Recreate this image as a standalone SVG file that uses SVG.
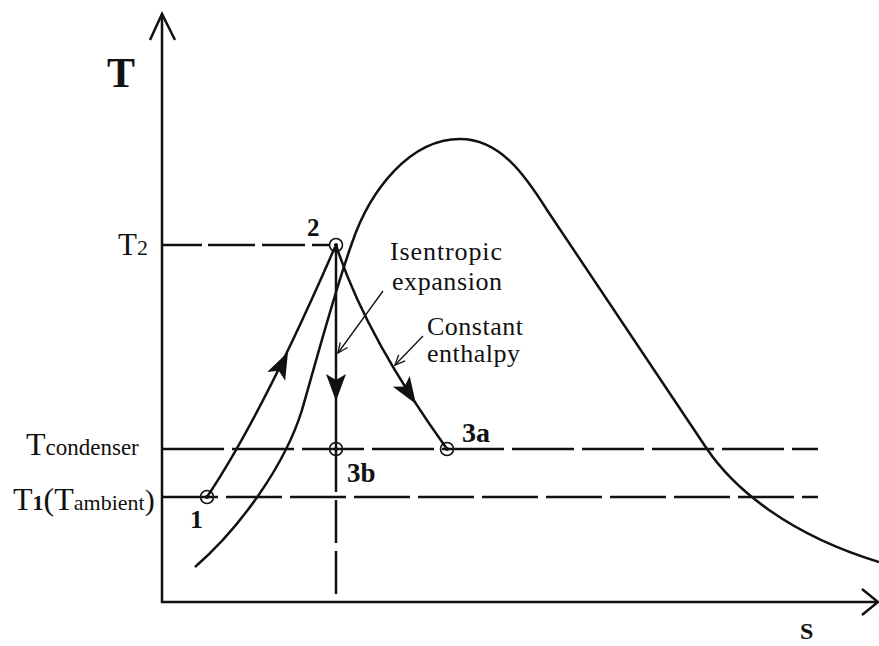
<svg xmlns="http://www.w3.org/2000/svg" width="879" height="646" viewBox="0 0 879 646">
<style>
  .ln{fill:none;stroke:#111;stroke-width:2.5;stroke-linecap:butt}
  .thin{fill:none;stroke:#111;stroke-width:1.3}
  .dash{fill:none;stroke:#111;stroke-width:2.5}
  .pt{fill:none;stroke:#111;stroke-width:1.6}
  .dot{fill:#111}
  .ah{fill:#111}
  text{font-family:"Liberation Serif","Times New Roman",serif;fill:#111}
  .b{font-weight:bold}
</style>
<defs>
  <path id="head" d="M0,0 L-27,-10 L-21,0 L-27,10 Z"/>
  <marker id="open" viewBox="-12 -6 14 12" markerWidth="14" markerHeight="12" refX="0" refY="0" orient="auto" markerUnits="userSpaceOnUse">
    <path d="M-10,-4.5 L0,0 L-10,4.5" fill="none" stroke="#111" stroke-width="1.3"/>
  </marker>
</defs>
<rect width="879" height="646" fill="#fff"/>

<g id="axes">
  <path class="ln" d="M162,14 V603"/>
  <path class="ln" d="M150,40 L162,14 L175,40"/>
  <path class="ln" d="M161,602 H877"/>
  <path class="ln" d="M862,589 L878,602 L862,615"/>
  <text class="b" x="107" y="87" font-size="42">T</text>
  <text class="b" x="800" y="639" font-size="24">S</text>
</g>

<g id="levels">
  <path class="dash" d="M162,245 H330" stroke-dasharray="40 6 47 7 43 7"/>
  <path class="dash" d="M162,449 H818" stroke-dasharray="62 8"/>
  <path class="dash" d="M162,497 H818" stroke-dasharray="56 8"/>
  <path class="dash" d="M336,449 V602" stroke-dasharray="43 8"/>
  <text x="118" y="255"><tspan font-size="31">T</tspan><tspan font-size="22">2</tspan></text>
  <text x="26" y="455"><tspan font-size="32">T</tspan><tspan font-size="23">condenser</tspan></text>
  <text x="13" y="510"><tspan font-size="32">T</tspan><tspan font-size="22" class="b">1</tspan><tspan font-size="32">(T</tspan><tspan font-size="22">ambient</tspan><tspan font-size="30">)</tspan></text>
</g>

<g id="dome">
  <path class="ln" d="M195,567 C240,528 285,465 302,410 C315,365 335,290 352,243 C370,190 410,139 460,139 C500,139 525,175 547,210 L707,449 C735,490 790,535 879,562"/>
</g>

<g id="connectors">
  <path class="ln" d="M207,497 Q262,415 335,247"/>
  <use href="#head" class="ah" transform="translate(288,352) rotate(-64)"/>
  <path class="ln" d="M336,245 V449"/>
  <use href="#head" class="ah" transform="translate(336,401) rotate(90)"/>
  <path class="ln" d="M336,245 Q365,335 447,449"/>
  <use href="#head" class="ah" transform="translate(416,404) rotate(57)"/>
  <path class="thin" d="M383,291 L338,353" marker-end="url(#open)"/>
  <path class="thin" d="M423,336 L395,365" marker-end="url(#open)"/>
</g>

<g id="p1">
  <circle class="pt" cx="207" cy="497" r="6.5"/><circle class="dot" cx="207" cy="497" r="2"/>
  <text class="b" x="190" y="528" font-size="26">1</text>
</g>
<g id="p2">
  <circle class="pt" cx="336" cy="245" r="6.5"/><circle class="dot" cx="336" cy="245" r="2"/>
  <text class="b" x="307" y="236" font-size="25">2</text>
</g>
<g id="p3b">
  <circle class="pt" cx="336" cy="449" r="6.5"/><circle class="dot" cx="336" cy="449" r="2"/>
  <text class="b" x="347" y="482" font-size="27">3b</text>
</g>
<g id="p3a">
  <circle class="pt" cx="447" cy="449" r="6.5"/><circle class="dot" cx="447" cy="449" r="2"/>
  <text class="b" x="462" y="442" font-size="28">3a</text>
</g>

<g id="labels">
  <text x="390" y="260" font-size="26" textLength="112">Isentropic</text>
  <text x="392" y="290" font-size="26" textLength="110">expansion</text>
  <text x="427" y="335" font-size="26" textLength="96">Constant</text>
  <text x="427" y="362" font-size="26" textLength="93">enthalpy</text>
</g>
</svg>
